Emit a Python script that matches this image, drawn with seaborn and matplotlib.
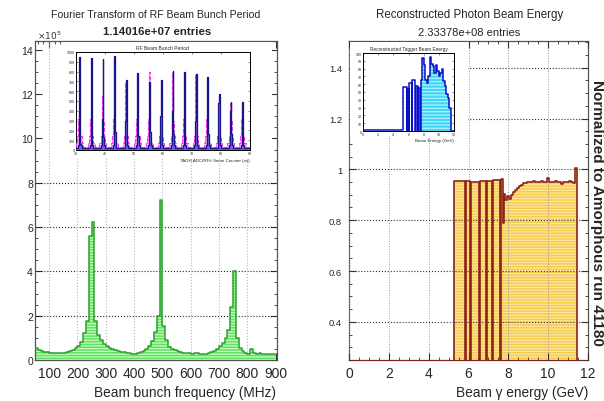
import numpy as np
import matplotlib
matplotlib.use("Agg")
import matplotlib.pyplot as plt
import seaborn as sns
from matplotlib.patches import Rectangle
from matplotlib.ticker import MultipleLocator, FuncFormatter

# ---------------- data ----------------
# Left: Fourier transform of RF beam bunch period (x 1e5 entries), 10 MHz bins from 50 MHz
freq_bin_edges = list(range(50, 901, 10))
freq_counts = [0.52, 0.47, 0.40, 0.36, 0.34, 0.33, 0.32, 0.32, 0.32, 0.33,
               0.33, 0.35, 0.40, 0.45, 0.55, 0.65, 0.80, 1.20, 1.75, 5.60,
               6.25, 1.75, 1.15, 0.90, 0.70, 0.62, 0.55, 0.50, 0.45, 0.42,
               0.38, 0.35, 0.33, 0.30, 0.28, 0.27, 0.30, 0.35, 0.42, 0.50,
               0.65, 0.85, 1.25, 2.00, 7.20, 1.55, 0.90, 0.60, 0.50, 0.45,
               0.40, 0.35, 0.32, 0.30, 0.30, 0.28, 0.30, 0.33, 0.28, 0.27,
               0.28, 0.30, 0.35, 0.42, 0.50, 0.62, 0.75, 1.00, 1.35, 2.40,
               4.00, 1.00, 0.55, 0.40, 0.32, 0.28, 0.50, 0.32, 0.28, 0.30,
               0.25, 0.28, 0.25, 0.27, 0.25]

# Left inset: RF beam bunch period (ns), one cluster per bunch
rf_peak_ns = [31.3, 35.3, 39.3, 43.3, 47.3, 51.3, 55.4, 59.4, 63.4, 67.4,
              71.4, 75.4, 79.4, 83.4, 87.4]
rf_blue_peak = [0.95, 0.94, 0.93, 0.96, 0.71, 0.79, 0.69, 0.71, 0.81, 0.80,
                0.78, 0.74, 0.57, 0.49, 0.49]
rf_blue_shoulder = [0.16, 0.52, 0.32, 0.45, 0.30, 0.35, 0.45, 0.35, 0.40, 0.35,
                    0.30, 0.40, 0.48, 0.40, 0.42]
rf_pink_peak = [0.72, 0.28, 0.55, 0.93, 0.68, 0.78, 0.80, 0.70, 0.80, 0.78,
                0.77, 0.72, 0.55, 0.48, 0.49]

# Right: reconstructed photon beam energy, normalised to amorphous run
energy_edges = [0.0, 5.28, 5.80, 5.86, 6.08, 6.13, 6.52, 6.57, 6.90, 6.95,
                7.20, 7.25, 7.60, 7.65, 7.72, 7.76, 7.85, 7.95, 8.05, 8.15,
                8.25, 8.35, 8.45, 8.55, 8.65, 8.75, 8.85, 8.95, 9.05, 9.15,
                9.25, 9.35, 9.45, 9.55, 9.65, 9.75, 9.85, 9.95, 10.05, 10.15,
                10.25, 10.35, 10.45, 10.55, 10.65, 10.75, 10.85, 10.95, 11.05,
                11.15, 11.25, 11.35, 11.45, 12.0]
energy_ratio = [0.0, 0.955, 0.0, 0.955, 0.0, 0.952, 0.0, 0.956, 0.0, 0.953,
                0.0, 0.958, 0.0, 0.962, 0.79, 0.905, 0.88, 0.895, 0.885, 0.900,
                0.910, 0.918, 0.925, 0.935, 0.940, 0.945, 0.948, 0.950, 0.952,
                0.950, 0.953, 0.950, 0.952, 0.951, 0.953, 0.952, 0.950, 0.965,
                0.952, 0.950, 0.951, 0.953, 0.950, 0.952, 0.942, 0.951, 0.952,
                0.950, 0.953, 0.951, 0.948, 1.005, 0.0]

# Right inset: reconstructed tagger beam energy
tagger_edges = [0.0, 5.3, 5.75, 5.8, 6.05, 6.1, 6.45, 6.5, 6.9, 6.95, 7.2,
                7.25, 7.55, 7.6, 7.8, 8.0, 8.2, 8.4, 8.6, 8.8, 9.0, 9.2, 9.4,
                9.6, 9.8, 10.0, 10.2, 10.4, 10.6, 10.8, 11.0, 11.2, 11.4,
                11.6, 12.0]
tagger_counts = [0.015, 0.57, 0.0, 0.54, 0.0, 0.62, 0.0, 0.66, 0.0, 0.58, 0.0,
                 0.55, 0.0, 0.66, 0.94, 0.84, 0.66, 0.62, 0.70, 0.95, 0.86,
                 0.83, 0.74, 0.85, 0.77, 0.70, 0.74, 0.80, 0.64, 0.58, 0.48,
                 0.42, 0.30, 0.0]

assert len(freq_bin_edges) == len(freq_counts) + 1
assert len(energy_edges) == len(energy_ratio) + 1
assert len(tagger_edges) == len(tagger_counts) + 1

# ---------------- style ----------------
sns.set_theme(style="white")
FONT = ['Liberation Sans', 'DejaVu Sans']
plt.rcParams['font.family'] = FONT
plt.rcParams['hatch.linewidth'] = 0.9
plt.rcParams['axes.unicode_minus'] = False

W, H = 604, 402
fig = plt.figure(figsize=(W / 100, H / 100), dpi=100)
fig.patch.set_facecolor('white')


def rect(x0, y0, x1, y1):
    """pixel box (top-left origin) -> figure fraction rect"""
    return [x0 / W, 1 - y1 / H, (x1 - x0) / W, (y1 - y0) / H]


def centers(edges):
    e = np.asarray(edges, dtype=float)
    return (e[:-1] + e[1:]) / 2


def style_frame(ax, color='#555555', lw=0.9):
    for s in ax.spines.values():
        s.set_visible(True)
        s.set_color(color)
        s.set_linewidth(lw)


# ================= LEFT PANEL =================
axL = fig.add_axes(rect(35, 42, 277, 361))
axL.set_facecolor('white')
sns.histplot(x=centers(freq_bin_edges), weights=freq_counts, bins=freq_bin_edges,
             element='bars', fill=True, stat='count', alpha=1,
             facecolor='#5ee35e', edgecolor='#c9fbc6', linewidth=0,
             hatch='------', ax=axL, zorder=2)
sns.histplot(x=centers(freq_bin_edges), weights=freq_counts, bins=freq_bin_edges,
             element='step', fill=False, stat='count', color='#2ca02c',
             linewidth=1.1, ax=axL, zorder=3)
axL.set_xlim(50, 905)
axL.set_ylim(0, 14.4)
for yv in [2, 4, 6, 8]:
    axL.axhline(yv, ls=':', color='#222222', lw=0.8, zorder=1)
for xv in range(100, 900, 100):
    axL.axvline(xv, ls=':', color='#b5b5b5', lw=0.8, zorder=1)
axL.xaxis.set_major_locator(MultipleLocator(100))
axL.xaxis.set_minor_locator(MultipleLocator(20))
axL.yaxis.set_major_locator(MultipleLocator(2))
axL.yaxis.set_minor_locator(MultipleLocator(0.5))
axL.yaxis.set_major_formatter(FuncFormatter(lambda v, _: f"{v:g}"))
axL.tick_params(which='both', direction='in', top=True, right=True,
                bottom=True, left=True, color='#333333')
axL.tick_params(which='major', length=5, width=0.8)
axL.tick_params(which='minor', length=2.5, width=0.6)
axL.tick_params(axis='x', labelsize=10, pad=4)
axL.tick_params(axis='y', labelsize=7.5, pad=1.5)
axL.set_xlabel("")
axL.set_ylabel("")
style_frame(axL)

fig.text(156 / W, 1 - 15 / H, "Fourier Transform of RF Beam Bunch Period",
         ha='center', va='center', fontsize=7.6)
fig.text(157 / W, 1 - 32 / H, "1.14016e+07 entries", ha='center', va='center',
         fontsize=8.2, fontweight='bold')
fig.text(37 / W, 1 - 36 / H, r"$\times10^{5}$", ha='left', va='center',
         fontsize=6.5, color='#333333')
fig.text(276 / W, 1 - 393 / H, "Beam bunch frequency (MHz)", ha='right',
         va='center', fontsize=9.8)

# white backing of the left inset picture
fig.patches.append(Rectangle((62 / W, 1 - 160 / H), (272 - 62) / W, (160 - 43) / H,
                             transform=fig.transFigure, facecolor='white',
                             edgecolor='none', zorder=1))

# ---- left inset ----
axLI = fig.add_axes(rect(76, 53, 250, 151), zorder=3)
axLI.set_facecolor('white')
pk_edges, pk_vals = [30.0], []
for p, hm in zip(rf_peak_ns, rf_pink_peak):
    offs = [-1.2, -0.8, -0.45, -0.25, -0.05, 0.25, 0.6, 1.1]
    lv = [0.07, 0.14, 0.32, hm, 0.30, 0.14, 0.07]
    pk_vals.append(0.03)
    pk_edges.append(p + offs[0])
    for o, v in zip(offs[1:], lv):
        pk_vals.append(v)
        pk_edges.append(p + o)
pk_vals.append(0.03)
pk_edges.append(90.0)

bl_edges, bl_vals = [30.0], []
for p, hb, sh in zip(rf_peak_ns, rf_blue_peak, rf_blue_shoulder):
    offs = [-0.55, -0.3, -0.12, 0.16, 0.35, 0.65]
    lv = [0.05, sh, hb, sh * 0.4, 0.05]
    bl_vals.append(0.02)
    bl_edges.append(p + offs[0])
    for o, v in zip(offs[1:], lv):
        bl_vals.append(v)
        bl_edges.append(p + o)
bl_vals.append(0.02)
bl_edges.append(90.0)

sns.histplot(x=centers(pk_edges), weights=pk_vals, bins=pk_edges, element='bars',
             fill=True, alpha=1, facecolor='#f08cf0', edgecolor='#ffd6ff',
             linewidth=0, hatch='-----', ax=axLI, zorder=2)
sns.histplot(x=centers(pk_edges), weights=pk_vals, bins=pk_edges, element='step',
             fill=False, color='#ff33ff', linewidth=0.8, linestyle='--',
             ax=axLI, zorder=3)
sns.histplot(x=centers(bl_edges), weights=bl_vals, bins=bl_edges, element='bars',
             fill=True, alpha=0.6, facecolor='#6f5fd8', linewidth=0,
             edgecolor='none', ax=axLI, zorder=4)
sns.histplot(x=centers(bl_edges), weights=bl_vals, bins=bl_edges, element='step',
             fill=False, color='#16168a', linewidth=0.9, ax=axLI, zorder=5)
axLI.set_xlim(30, 90)
axLI.set_ylim(0, 1.0)
axLI.xaxis.set_major_locator(MultipleLocator(10))
axLI.yaxis.set_major_locator(MultipleLocator(0.1))
axLI.yaxis.set_major_formatter(FuncFormatter(lambda v, _: f"{int(round(v * 1000))}"))
axLI.tick_params(which='both', direction='in', labelsize=2.6, length=1.5,
                 width=0.4, pad=1, top=True, right=True, bottom=True, left=True)
axLI.set_xlabel("")
axLI.set_ylabel("")
style_frame(axLI, color='black', lw=0.7)
axLI.set_title("RF Beam Bunch Period", fontsize=3.6, pad=1.8)
axLI.text(1.0, -0.08, "TAGH.ADC/RF/r Some Counter (ns)", transform=axLI.transAxes,
          ha='right', va='top', fontsize=3.2)

# ================= RIGHT PANEL =================
axR = fig.add_axes(rect(349, 42, 588, 361))
axR.set_facecolor('white')
sns.histplot(x=centers(energy_edges), weights=energy_ratio, bins=energy_edges,
             element='bars', fill=True, stat='count', alpha=1,
             facecolor='#f6cb4e', edgecolor='#fde7a0', linewidth=0,
             hatch='------', ax=axR, zorder=2)
sns.histplot(x=centers(energy_edges), weights=energy_ratio, bins=energy_edges,
             element='step', fill=False, stat='count', color='#8e2318',
             linewidth=1.2, ax=axR, zorder=3)
axR.set_xlim(0, 12)
axR.set_ylim(0.25, 1.505)
axR.xaxis.set_major_locator(MultipleLocator(2))
axR.xaxis.set_minor_locator(MultipleLocator(0.5))
axR.yaxis.set_major_locator(MultipleLocator(0.2))
axR.yaxis.set_minor_locator(MultipleLocator(0.05))
axR.yaxis.set_major_formatter(FuncFormatter(lambda v, _: f"{v:g}"))
axR.grid(True, which='major', axis='y', ls=':', color='#333333', lw=0.8, zorder=4)
axR.grid(True, which='major', axis='x', ls=':', color='#9a9a9a', lw=0.7, zorder=4)
axR.set_axisbelow(False)
axR.tick_params(which='both', direction='in', top=True, right=True,
                bottom=True, left=True, color='#333333')
axR.tick_params(which='major', length=5, width=0.8)
axR.tick_params(which='minor', length=2.5, width=0.6)
axR.tick_params(axis='x', labelsize=10, pad=4)
axR.tick_params(axis='y', labelsize=6.8, pad=5)
axR.set_xlabel("")
axR.set_ylabel("")
style_frame(axR)
axR.spines['bottom'].set_color('#7a2a20')

fig.text(470 / W, 1 - 15 / H, "Reconstructed Photon Beam Energy",
         ha='center', va='center', fontsize=8.3)
fig.text(469 / W, 1 - 33 / H, "2.33378e+08 entries", ha='center', va='center',
         fontsize=8.0)
fig.text(588 / W, 1 - 393 / H, "Beam \u03b3 energy (GeV)", ha='right',
         va='center', fontsize=9.8)
fig.text(597 / W, 1 - 213 / H, "Normalized to Amorphous run 41180", rotation=270,
         ha='center', va='center', fontsize=11, fontweight='bold')

fig.patches.append(Rectangle((350 / W, 1 - 137 / H), (468 - 350) / W, (137 - 43) / H,
                             transform=fig.transFigure, facecolor='white',
                             edgecolor='none', zorder=1))

# ---- right inset ----
axRI = fig.add_axes(rect(363, 54, 454, 132), zorder=3)
axRI.set_facecolor('white')
sns.histplot(x=centers(tagger_edges), weights=tagger_counts, bins=tagger_edges,
             element='bars', fill=True, alpha=1, facecolor='#3fd6f7',
             edgecolor='#b0f0ff', linewidth=0, hatch='-----', ax=axRI, zorder=2)
for patch in axRI.patches:
    if patch.get_x() < 7.6:
        patch.set_facecolor('white')
        patch.set_edgecolor('#d8f6ff')
sns.histplot(x=centers(tagger_edges), weights=tagger_counts, bins=tagger_edges,
             element='step', fill=False, color='#0a10c8', linewidth=1.1,
             ax=axRI, zorder=3)
axRI.set_xlim(0, 12)
axRI.set_ylim(0, 1.0)
axRI.xaxis.set_major_locator(MultipleLocator(2))
axRI.yaxis.set_major_locator(MultipleLocator(0.1))
axRI.yaxis.set_major_formatter(FuncFormatter(lambda v, _: f"{int(round(v * 100))}"))
axRI.tick_params(which='both', direction='in', labelsize=2.6, length=1.5,
                 width=0.4, pad=1, top=True, right=True, bottom=True, left=True)
axRI.set_xlabel("")
axRI.set_ylabel("")
style_frame(axRI, color='black', lw=0.7)
axRI.set_title("Reconstructed Tagger Beam Energy", fontsize=3.4, pad=1.8)
axRI.text(1.0, -0.09, "Beam Energy (GeV)", transform=axRI.transAxes,
          ha='right', va='top', fontsize=3.2)

fig.savefig("out.png", dpi=100, facecolor='white')
